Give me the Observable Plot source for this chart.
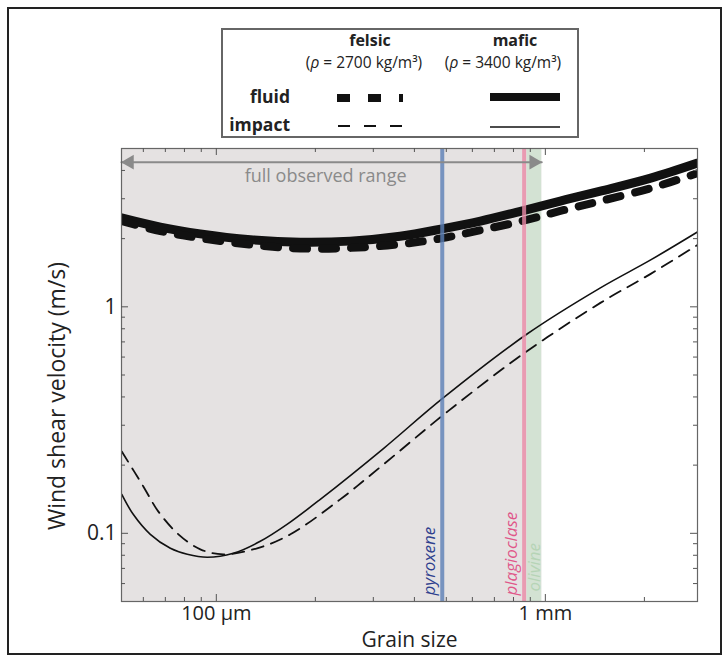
<!DOCTYPE html>
<html>
<head>
<meta charset="utf-8">
<script src="https://cdn.jsdelivr.net/npm/d3@7"></script>
<script src="https://cdn.jsdelivr.net/npm/@observablehq/plot@0.6"></script>
<style>
  body { margin: 0; background: #fff; font-family: "Open Sans", sans-serif; }
  #wrap { position: relative; width: 728px; height: 660px; overflow: hidden; background: #fff; }
  #legend { position: absolute; left: 0; top: 0; }
  #chart { position: absolute; left: 0; top: 146px; }
  #border { position: absolute; left: 7px; top: 7px; width: 711px; height: 644px; border: 2px solid #222; pointer-events: none; }
</style>
</head>
<body>
<div id="wrap">
  <svg id="legend" width="728" height="146" font-family="'Open Sans', sans-serif" fill="#222">
    <rect x="222" y="29" width="356" height="108" fill="white" stroke="#666" stroke-width="2"></rect>
    <text x="370" y="46" text-anchor="middle" font-weight="bold" font-size="16">felsic</text>
    <text x="364" y="68" text-anchor="middle" font-size="15.5">(<tspan font-style="italic">ρ</tspan> = 2700 kg/m³)</text>
    <text x="515" y="46" text-anchor="middle" font-weight="bold" font-size="16">mafic</text>
    <text x="503" y="68" text-anchor="middle" font-size="15.5">(<tspan font-style="italic">ρ</tspan> = 3400 kg/m³)</text>
    <text x="290" y="103" text-anchor="end" font-weight="bold" font-size="17.5">fluid</text>
    <text x="290" y="131" text-anchor="end" font-weight="bold" font-size="17.5">impact</text>
    <line x1="337" x2="403" y1="98" y2="98" stroke="#111" stroke-width="8" stroke-dasharray="13,18"></line>
    <line x1="490" x2="560" y1="97" y2="97" stroke="#111" stroke-width="8"></line>
    <line x1="338" x2="403" y1="126" y2="126" stroke="#111" stroke-width="1.8" stroke-dasharray="12,14"></line>
    <line x1="490" x2="560" y1="127" y2="127" stroke="#111" stroke-width="1.5"></line>
  </svg>
  <div id="chart"></div>
  <div id="border"></div>
</div>
<script>
// ---- data (grain size in µm, wind shear velocity in m/s) ----
const fluidGrain   = [51.5, 67.6, 89.4, 127, 180, 255, 362, 486, 635, 858, 1110, 1470, 2090, 2900];
const fluidMafic   = [2.47, 2.25, 2.10, 1.98, 1.93, 1.95, 2.05, 2.21, 2.39, 2.66, 2.93, 3.24, 3.70, 4.31];
const fluidFelsic  = [2.39, 2.16, 2.01, 1.88, 1.81, 1.82, 1.89, 2.01, 2.18, 2.40, 2.65, 2.93, 3.34, 3.89];

const impactMaficGrain  = [51.6, 55.9, 63.0, 72.5, 81.6, 93.9, 112.6, 136, 164, 207, 322, 486, 882, 1470, 2090, 2900];
const impactMafic       = [0.1485, 0.1213, 0.099, 0.0859, 0.0808, 0.0784, 0.0816, 0.0922, 0.1095, 0.1412, 0.2367, 0.3933, 0.7605, 1.213, 1.611, 2.14];
const impactFelsicGrain = [51.6, 60.0, 66.6, 76.7, 89.4, 105, 133, 168, 238, 322, 504, 858, 1470, 2090, 2900];
const impactFelsic      = [0.2297, 0.1611, 0.125, 0.099, 0.085, 0.0808, 0.0859, 0.099, 0.1412, 0.2014, 0.3446, 0.621, 1.041, 1.398, 1.876];

const mineralNames = ["pyroxene", "plagioclase"];
const mineralGrain = [486, 862];
const olivineName = "olivine";
const olivineBand = [880, 975];
const observedRange = [51.5, 975];
const observedLabel = "full observed range";
const observedArrowV = 4.35;

const xDomain = [51.5, 2900];
const yDomain = [0.05, 5];
const xMajorTicks = [100, 1000];
const xTickLabels = ["100 µm", "1 mm"];
const xMinorTicks = [60, 70, 80, 90, 200, 300, 400, 500, 600, 700, 800, 900, 2000];
const yMajorTicks = [0.1, 1];
const yTickLabels = ["0.1", "1"];
const yMinorTicks = [0.06, 0.07, 0.08, 0.09, 0.2, 0.3, 0.4, 0.5, 0.6, 0.7, 0.8, 0.9, 2, 3, 4];
const xLabel = "Grain size";
const yLabel = "Wind shear velocity (m/s)";

// ---- build tables ----
const toRows = (gs, vs) => gs.map((g, i) => ({g, v: vs[i]}));
const fMafic = toRows(fluidGrain, fluidMafic);
const fFelsic = toRows(fluidGrain, fluidFelsic);
const iMafic = toRows(impactMaficGrain, impactMafic);
const iFelsic = toRows(impactFelsicGrain, impactFelsic);
const minerals = mineralNames.map((n, i) => ({name: n, g: mineralGrain[i]}));
const mineralColor = {pyroxene: "#5b7fb6", plagioclase: "#ea8aa6"};
const mineralText = {pyroxene: "#2e3f8e", plagioclase: "#e0578a"};

const W = 728, Hh = 514, mT = 2, mL = 121, mR = 31, mB = 59;
const innerH = Hh - mT - mB, innerW = W - mL - mR;
const tickColor = "#555";
const majLen = 7, minLen = 4;

const tickMarks = [
  Plot.ruleX(xMajorTicks, {x: d => d, insetTop: innerH - majLen, stroke: tickColor}),
  Plot.ruleX(xMinorTicks, {x: d => d, insetTop: innerH - minLen, stroke: tickColor}),
  Plot.ruleX(xMajorTicks, {x: d => d, insetBottom: innerH - majLen, stroke: tickColor}),
  Plot.ruleX(xMinorTicks, {x: d => d, insetBottom: innerH - minLen, stroke: tickColor}),
  Plot.ruleY(yMajorTicks, {y: d => d, insetRight: innerW - majLen, stroke: tickColor}),
  Plot.ruleY(yMinorTicks, {y: d => d, insetRight: innerW - minLen, stroke: tickColor}),
  Plot.ruleY(yMajorTicks, {y: d => d, insetLeft: innerW - majLen, stroke: tickColor}),
  Plot.ruleY(yMinorTicks, {y: d => d, insetLeft: innerW - minLen, stroke: tickColor})
];

const chart = Plot.plot({
  width: W, height: Hh,
  marginTop: mT, marginLeft: mL, marginRight: mR, marginBottom: mB,
  x: {type: "log", domain: xDomain},
  y: {type: "log", domain: yDomain},
  style: {fontFamily: "'Open Sans', sans-serif", color: "#222", background: "white"},
  marks: [
    Plot.rect([observedRange], {x1: d => d[0], x2: d => d[1], fill: "#e5e2e2"}),
    Plot.rect([olivineBand], {x1: d => d[0], x2: d => d[1], fill: "#d3e2d3"}),
    Plot.line(iMafic, {x: "g", y: "v", stroke: "#111", strokeWidth: 1.6, curve: "catmull-rom", clip: true}),
    Plot.line(iFelsic, {x: "g", y: "v", stroke: "#111", strokeWidth: 1.8, strokeDasharray: "12,8", curve: "catmull-rom", clip: true}),
    Plot.line(fMafic, {x: "g", y: "v", stroke: "#111", strokeWidth: 9, curve: "catmull-rom", clip: true}),
    Plot.line(fFelsic, {x: "g", y: "v", stroke: "#111", strokeWidth: 8, strokeDasharray: "14,15", curve: "catmull-rom", clip: true}),
    Plot.ruleX(minerals, {x: "g", stroke: d => mineralColor[d.name], strokeWidth: 4, strokeOpacity: 0.8}),
    Plot.text(minerals, {x: "g", frameAnchor: "bottom", text: "name", rotate: -90, textAnchor: "start", lineAnchor: "middle",
      dx: -13, dy: -6, fontSize: 17, fontStyle: "italic", fill: d => mineralText[d.name]}),
    Plot.text([olivineName], {x: () => olivineBand[1], frameAnchor: "bottom", text: d => d, rotate: -90, textAnchor: "start", lineAnchor: "middle",
      dx: -7, dy: -10, fontSize: 17, fontStyle: "italic", fill: "#b6d4b6"}),
    Plot.line(observedRange, {x: d => d, y: () => observedArrowV, stroke: "#8a8a8a", strokeWidth: 2}),
    Plot.dot([observedRange[0]], {x: d => d, y: () => observedArrowV, symbol: "triangle", rotate: -90, r: 5.5, fill: "#8a8a8a", stroke: "none", dx: 8}),
    Plot.dot([observedRange[1]], {x: d => d, y: () => observedArrowV, symbol: "triangle", rotate: 90, r: 5.5, fill: "#8a8a8a", stroke: "none", dx: -8}),
    Plot.text([observedLabel], {x: () => Math.sqrt(observedRange[0] * observedRange[1]), y: () => observedArrowV, text: d => d,
      dx: -6, dy: 14, fontSize: 18, fill: "#8a8a8a"}),
    Plot.frame({stroke: "#666", strokeWidth: 1.2}),
    ...tickMarks,
    Plot.axisX({ticks: xMajorTicks, tickFormat: d => xTickLabels[xMajorTicks.indexOf(d)], tickSize: 0, tickPadding: 4, fontSize: 20, label: null}),
    Plot.axisY({ticks: yMajorTicks, tickFormat: d => yTickLabels[yMajorTicks.indexOf(d)], tickSize: 0, tickPadding: 5, fontSize: 21, label: null}),
    Plot.text([xLabel], {frameAnchor: "bottom", text: d => d, textAnchor: "middle", lineAnchor: "middle", dy: 39, fontSize: 21, fill: "#222"}),
    Plot.text([yLabel], {frameAnchor: "left", text: d => d, rotate: -90, textAnchor: "middle", lineAnchor: "middle", dx: -64, dy: 21, fontSize: 23, fill: "#222"})
  ]
});
document.getElementById("chart").appendChild(chart);
</script>
</body>
</html>
